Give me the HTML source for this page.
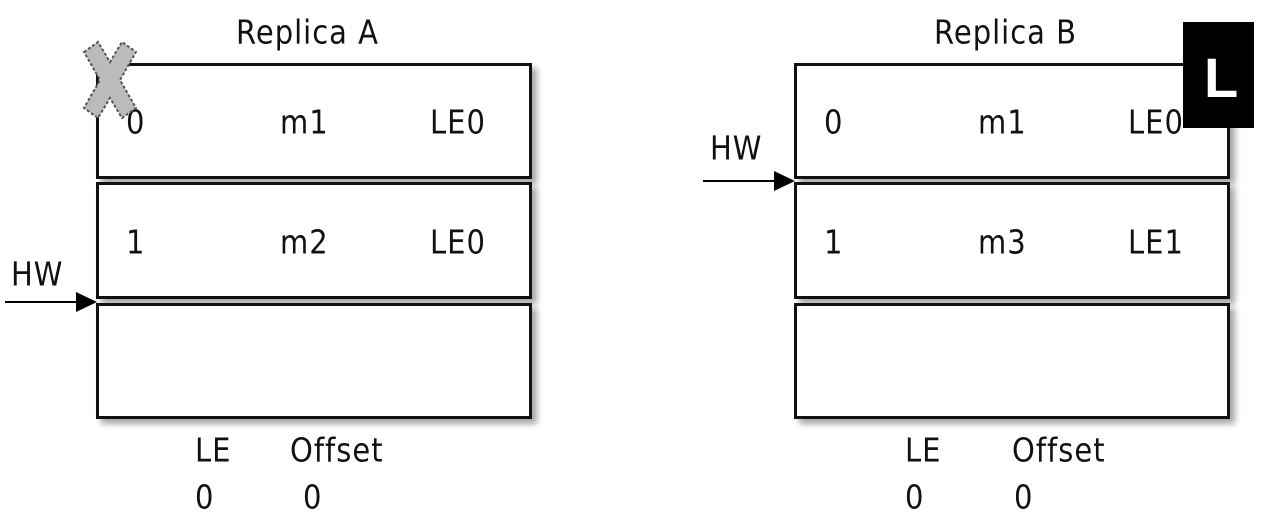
<!DOCTYPE html>
<html><head><style>
body{margin:0;width:1269px;height:528px;background:#fff;position:relative;overflow:hidden;font-family:"DejaVu Sans","Liberation Sans",sans-serif;color:#111}
.t{position:absolute;font-size:29px;line-height:36px;white-space:nowrap;letter-spacing:1px;transform:scaleY(1.15);transform-origin:left center}
.box{position:absolute;border:3px solid #111;background:#fff;box-shadow:5px 5px 6px rgba(0,0,0,0.35);box-sizing:border-box}
</style></head><body>
<div class="t" style="left:236px;top:14px">Replica A</div>
<div class="t" style="left:934px;top:14px">Replica B</div>

<div class="box" style="left:96px;top:63px;width:436px;height:116px"></div>
<div class="box" style="left:96px;top:182px;width:436px;height:117px"></div>
<div class="box" style="left:96px;top:303px;width:436px;height:116px"></div>

<div class="box" style="left:794px;top:63px;width:436px;height:116px"></div>
<div class="box" style="left:794px;top:182px;width:436px;height:117px"></div>
<div class="box" style="left:794px;top:303px;width:436px;height:116px"></div>

<div class="t" style="left:126px;top:104px">0</div>
<div class="t" style="left:280px;top:104px">m1</div>
<div class="t" style="left:430px;top:104px">LE0</div>
<div class="t" style="left:126px;top:224px">1</div>
<div class="t" style="left:280px;top:224px">m2</div>
<div class="t" style="left:430px;top:224px">LE0</div>

<div class="t" style="left:824px;top:104px">0</div>
<div class="t" style="left:978px;top:104px">m1</div>
<div class="t" style="left:1128px;top:104px">LE0</div>
<div class="t" style="left:824px;top:224px">1</div>
<div class="t" style="left:978px;top:224px">m3</div>
<div class="t" style="left:1128px;top:224px">LE1</div>

<div class="t" style="left:11px;top:256px">HW</div>
<div class="t" style="left:710px;top:130px">HW</div>

<div class="t" style="left:195px;top:432px">LE</div>
<div class="t" style="left:290px;top:432px">Offset</div>
<div class="t" style="left:195px;top:479px">0</div>
<div class="t" style="left:303px;top:479px">0</div>
<div class="t" style="left:905px;top:432px">LE</div>
<div class="t" style="left:1012px;top:432px">Offset</div>
<div class="t" style="left:905px;top:479px">0</div>
<div class="t" style="left:1014px;top:479px">0</div>

<div style="position:absolute;left:1183px;top:22px;width:71px;height:106px;background:#000"></div>
<div style="position:absolute;left:1204px;top:48px;font-size:56px;line-height:60px;font-weight:bold;color:#fff;font-family:'Liberation Sans',sans-serif">L</div>

<svg width="1269" height="528" style="position:absolute;left:0;top:0">
<line x1="5" y1="302" x2="80" y2="302" stroke="#000" stroke-width="2"/>
<polygon points="76,292 97,302 76,312" fill="#000"/>
<line x1="703" y1="181" x2="778" y2="181" stroke="#000" stroke-width="2"/>
<polygon points="774,171 795,181 774,191" fill="#000"/>
<path d="M84,52 L98,42 L110,62 L122,42 L136,52 L120,80 L136,108 L122,118 L110,98 L98,118 L84,108 L100,80 Z" fill="#bbb" stroke="#555" stroke-width="2" stroke-dasharray="3,2"/>
</svg>
</body></html>
